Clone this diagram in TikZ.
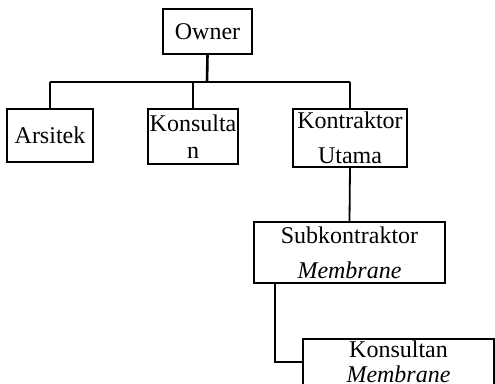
\documentclass[tikz,border=0pt]{standalone}
\usepackage{fontspec}
\setmainfont{Liberation Serif}
\begin{document}
\begin{tikzpicture}[x=1pt,y=-1pt,
  box/.style={draw, line width=1.8pt, inner sep=0pt, align=center},
  conn/.style={line width=1.8pt},
  f35/.style={font=\fontsize{24}{35}\selectfont},
  f27/.style={font=\fontsize{24}{27}\selectfont},
  f25/.style={font=\fontsize{24}{25}\selectfont}]
\useasboundingbox (0,0) rectangle (495,383);
\node[box, f35, minimum width=89pt, minimum height=45pt] (owner) at (207.5,31.5) {Owner};
\node[box, f35, minimum width=86pt, minimum height=53pt] (arsitek) at (50,135.5) {Arsitek};
\node[box, f27, minimum width=90pt, minimum height=55pt] (kons) at (193,136.5) {Konsulta\\n};
\node[box, f35, minimum width=114pt, minimum height=58pt] (kontr) at (350,138) {Kontraktor\\Utama};
\node[box, f35, minimum width=191pt, minimum height=61pt] (sub) at (349.5,252.5) {Subkontraktor\\\textit{Membrane}};
\node[box, f25, minimum width=191pt, minimum height=46pt] (kmem) at (398.5,362) {Konsultan\\\textit{Membrane}};
\coordinate (hub) at (207,82);
\coordinate (hl) at (50,82);
\coordinate (hr) at (350,82);
\draw[conn, line width=2.6pt] (owner.south) -- (hub);
\draw[conn] (hl) -- (hr);
\draw[conn] (hl) -- (arsitek.north);
\draw[conn] (kons.north |- hl) -- (kons.north);
\draw[conn] (hr) -- (kontr.north);
\draw[conn] (kontr.south) -- (sub.north);
\draw[conn] (sub.south -| 275,0) |- (kmem.west);
\end{tikzpicture}
\end{document}
